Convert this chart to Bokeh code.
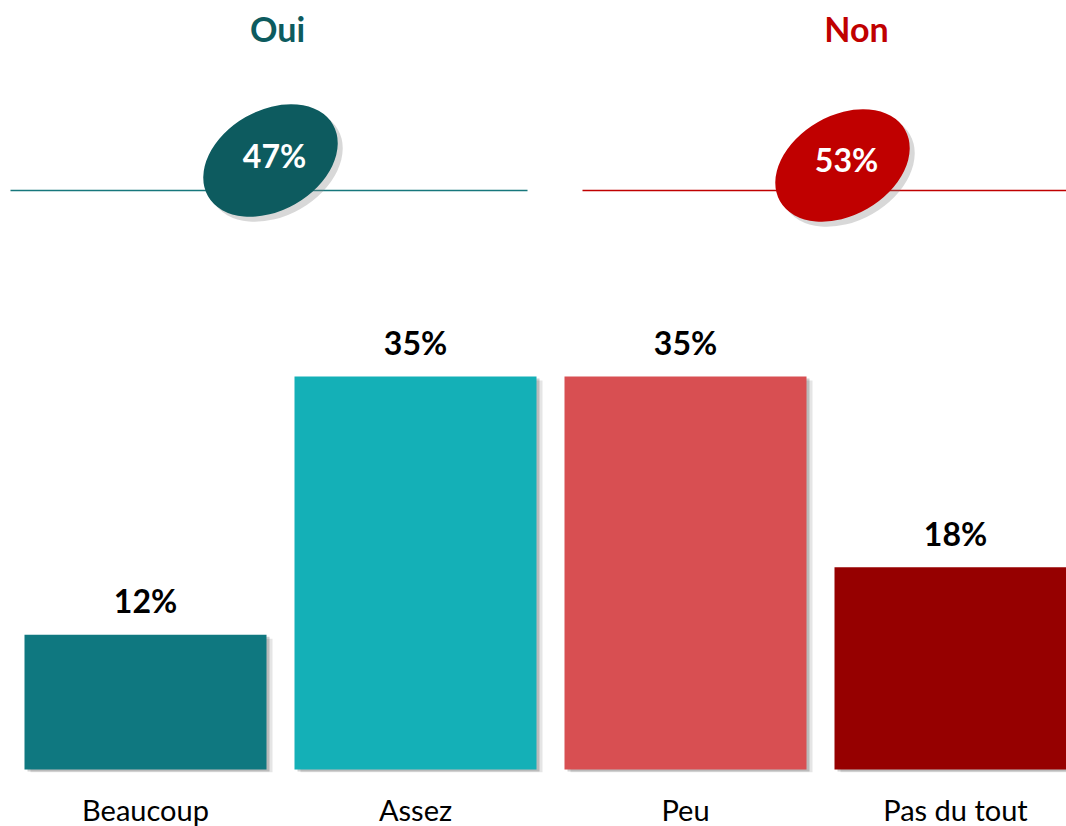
from bokeh.plotting import figure
from bokeh.layouts import column
from bokeh.models import Range1d, FixedTicker, ColumnDataSource
from bokeh.core.properties import value
from bokeh.embed import file_html
from bokeh.resources import INLINE

# ---------------- data ----------------
categories = ["Beaucoup", "Assez", "Peu", "Pas du tout"]
values = [12, 35, 35, 18]
bar_colors = ["#0f7880", "#14b0b7", "#d84f52", "#960000"]

groups = ["Oui", "Non"]
group_totals = [47, 53]
group_colors = ["#0d5b5f", "#c00000"]
group_line_colors = ["#17777c", "#c00000"]

# ---------------- layout constants ----------------
FONT = "Lato"
W = 1066
PX_X = 270.0                   # px per category
x_start = (0 - 145) / PX_X
x_end = (1066 - 145) / PX_X
BAR_W = 242 / PX_X
PX_Y = 11.23                   # px per percent

def px2x(px):
    return (px - 145) / PX_X

xr = Range1d(x_start, x_end)

# ---------------- header ----------------
head_h = 262
head = figure(width=W, height=head_h, x_range=xr, y_range=Range1d(head_h, 0),
              output_backend="svg", toolbar_location=None,
              x_axis_location=None, y_axis_location=None,
              min_border=0, outline_line_color=None, background_fill_color="white")
head.grid.visible = False

title_x = [px2x(277), px2x(856)]
ell_x = [px2x(270), px2x(842)]
ell_y = [160, 165]
num_x = [px2x(274), px2x(846)]
num_y = [155, 159]
line_x0 = [px2x(10), px2x(582)]
line_x1 = [px2x(527), px2x(1075)]

hsrc = ColumnDataSource(dict(
    name=groups, total=[f"{t}%" for t in group_totals], color=group_colors,
    lcolor=group_line_colors, tx=title_x, ty=[28, 28], ex=ell_x, ey=ell_y,
    sx=[x + 5 / PX_X for x in ell_x], sy=[y + 5 for y in ell_y],
    nx=num_x, ny=num_y, x0=line_x0, x1=line_x1, ly=[190, 190]))

head.segment(x0="x0", y0="ly", x1="x1", y1="ly", line_color="lcolor",
             line_width=1.6, source=hsrc)
head.ellipse(x="sx", y="sy", width=144, height=100, angle=0.52,
             width_units="screen", height_units="screen",
             fill_color="#7f7f7f", fill_alpha=0.3, line_color=None, source=hsrc)
head.ellipse(x="ex", y="ey", width=144, height=100, angle=0.52,
             width_units="screen", height_units="screen",
             fill_color="color", line_color=None, source=hsrc)
head.text(x="tx", y="ty", text="name", source=hsrc, text_color="color",
          text_font=value(FONT), text_font_style="bold", text_font_size="34px",
          text_align="center", text_baseline="alphabetic")
head.text(x="nx", y="ny", text="total", source=hsrc, text_color="white",
          text_font=value(FONT), text_font_style="bold", text_font_size="32px",
          text_align="center", text_baseline="alphabetic")

# ---------------- bars ----------------
frame_h = 510
baseline_rel = 769 - head_h          # baseline px from bars-figure top
y_end = baseline_rel / PX_Y
y_start = -(frame_h - baseline_rel) / PX_Y

xs = list(range(len(categories)))
bsrc = ColumnDataSource(dict(
    x=xs, top=values, color=bar_colors, label=[f"{v}%" for v in values],
    sx1=[x + 3 / PX_X for x in xs], st1=[v - 2 / PX_Y for v in values],
    sx2=[x + 6 / PX_X for x in xs], st2=[v - 4 / PX_Y for v in values]))

p = figure(width=W, frame_height=frame_h, x_range=xr, y_range=Range1d(y_start, y_end),
           output_backend="svg", toolbar_location=None, y_axis_location=None,
           min_border_left=0, min_border_right=0, min_border_top=0,
           min_border_bottom=0, outline_line_color=None,
           background_fill_color="white")
p.grid.visible = False

p.vbar(x="sx2", top="st2", bottom=-4 / PX_Y, width=BAR_W, source=bsrc,
       fill_color="#000000", fill_alpha=0.10, line_color=None)
p.vbar(x="sx1", top="st1", bottom=-2 / PX_Y, width=BAR_W, source=bsrc,
       fill_color="#000000", fill_alpha=0.18, line_color=None)
p.vbar(x="x", top="top", bottom=0, width=BAR_W, source=bsrc,
       fill_color="color", line_color=None)
p.text(x="x", y="top", text="label", source=bsrc, y_offset=-34,
       text_color="black", text_font=value(FONT), text_font_style="bold",
       text_font_size="32px", text_align="center", text_baseline="alphabetic")

ax = p.xaxis[0]
ax.ticker = FixedTicker(ticks=xs)
ax.major_label_overrides = {i: c for i, c in enumerate(categories)}
ax.axis_line_color = None
ax.major_tick_line_color = None
ax.minor_tick_line_color = None
ax.major_tick_out = 0
ax.major_tick_in = 0
ax.major_label_standoff = 19
ax.major_label_text_font = FONT
ax.major_label_text_font_size = "29px"
ax.major_label_text_line_height = 1.0
ax.major_label_text_color = "black"

layout = column(head, p, spacing=0)
open("out.html", "w").write(file_html(layout, INLINE))
